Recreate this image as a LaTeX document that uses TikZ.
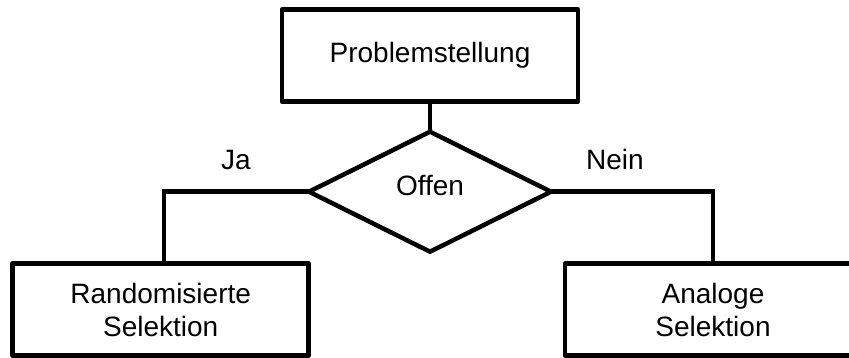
\documentclass[tikz,border=0pt]{standalone}
\usepackage{fontspec}
\setmainfont{Liberation Sans}
\usetikzlibrary{shapes.geometric}
\begin{document}
\begin{tikzpicture}[x=1pt,y=-1pt,
  txt/.style={font=\fontsize{28}{33}\selectfont},
  box/.style={txt,draw,line width=4.5pt,line join=round,minimum width=296pt,minimum height=92pt,inner sep=0pt,outer sep=0pt,align=center},
  dia/.style={txt,draw,diamond,line width=4.5pt,minimum width=242pt,minimum height=120pt,inner sep=0pt,outer sep=0pt},
  conn/.style={line width=4.5pt},
  lbl/.style={txt,inner sep=0pt}]
\useasboundingbox (0,0) rectangle (849,358);
\clip (0,0) rectangle (849,358);
\node[box] (p) at (430,55.6) {Problemstellung};
\node[dia,text depth=13pt] (d) at (430,191.7) {Offen};
\node[box] (l) at (160.7,309.5) {Randomisierte\\Selektion};
\node[box] (r) at (713,309.5) {Analoge\\Selektion};
\draw[conn] (p.south) -- (d.north);
\draw[conn] (d.west) -| ([xshift=3.5pt]l.north);
\draw[conn] (d.east) -| (r.north);
\node[lbl] (ja) at (236,160.5) {Ja};
\node[lbl] (nein) at (615,159) {Nein};
\end{tikzpicture}
\end{document}
